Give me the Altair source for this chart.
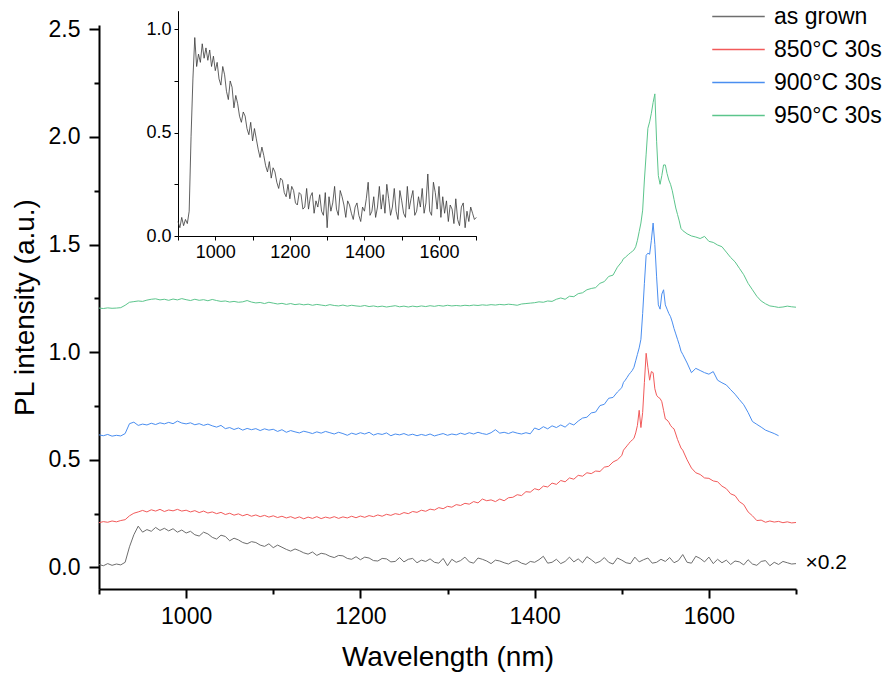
import altair as alt
import pandas as pd

FONT = "Liberation Sans"

SERIES = ["as grown", "850°C 30s", "900°C 30s", "950°C 30s"]
COLORS = ["#6e6e6e", "#f25a5a", "#4a8ef0", "#5cc58c"]
GROWN_SCALE = 0.2  # as-grown curve is shown x0.2 in the main panel

# wavelength sampling grids (nm)
WL_A = list(range(900, 1500, 5))
WL_B = list(range(1500, 1570, 2))
WL_C = list(range(1570, 1701, 5))
WL_BLUE_C = list(range(1570, 1681, 5))
WL_GROWN = list(range(900, 1701, 5))

green_a = [
    1.205, 1.203, 1.206, 1.204, 1.205, 1.207, 1.218, 1.232, 1.235, 1.238,
    1.236, 1.242, 1.246, 1.248, 1.243, 1.246, 1.241, 1.247, 1.243, 1.249,
    1.244, 1.240, 1.246, 1.241, 1.244, 1.239, 1.245, 1.240, 1.236, 1.238,
    1.233, 1.236, 1.232, 1.234, 1.240, 1.233, 1.229, 1.231, 1.226, 1.232,
    1.228, 1.224, 1.227, 1.222, 1.226, 1.221, 1.224, 1.220, 1.223, 1.218,
    1.222, 1.219, 1.216, 1.221, 1.217, 1.215, 1.219, 1.214, 1.218, 1.215,
    1.213, 1.217, 1.212, 1.215, 1.211, 1.214, 1.210, 1.213, 1.216, 1.211,
    1.214, 1.210, 1.214, 1.211, 1.215, 1.212, 1.216, 1.213, 1.217, 1.214,
    1.218, 1.215, 1.217, 1.215, 1.218, 1.216, 1.219, 1.217, 1.220, 1.218,
    1.221, 1.219, 1.222, 1.220, 1.223, 1.221, 1.218, 1.224, 1.226, 1.228,
    1.230, 1.234, 1.232, 1.238, 1.236, 1.246, 1.252, 1.246, 1.260, 1.258,
    1.272, 1.276, 1.290, 1.296, 1.300, 1.320, 1.328, 1.352, 1.358, 1.395,
]
green_b = [
    1.42, 1.435, 1.44, 1.448, 1.455, 1.462, 1.468, 1.475, 1.49, 1.52,
    1.56, 1.60, 1.66, 1.80, 1.92, 2.04, 2.07, 2.11, 2.16, 2.20,
    1.98, 1.82, 1.78, 1.82, 1.87, 1.87, 1.83, 1.80, 1.78, 1.75,
    1.71, 1.67, 1.64, 1.61, 1.575,
]
green_c = [
    1.565, 1.55, 1.54, 1.535, 1.528, 1.538, 1.515, 1.51, 1.498, 1.49,
    1.465, 1.44, 1.42, 1.39, 1.36, 1.32, 1.29, 1.26, 1.238, 1.225,
    1.215, 1.212, 1.208, 1.21, 1.214, 1.211, 1.209,
]

blue_a = [
    0.616, 0.612, 0.618, 0.610, 0.614, 0.611, 0.622, 0.668, 0.675, 0.660,
    0.666, 0.662, 0.670, 0.664, 0.672, 0.667, 0.674, 0.668, 0.680, 0.671,
    0.667, 0.672, 0.663, 0.668, 0.660, 0.666, 0.658, 0.652, 0.660, 0.645,
    0.650, 0.641, 0.648, 0.638, 0.646, 0.640, 0.645, 0.636, 0.644, 0.638,
    0.642, 0.632, 0.640, 0.628, 0.636, 0.630, 0.625, 0.633, 0.628, 0.622,
    0.630, 0.624, 0.632, 0.626, 0.620, 0.628, 0.622, 0.614, 0.624, 0.618,
    0.626, 0.620, 0.628, 0.615, 0.622, 0.618, 0.625, 0.612, 0.620, 0.616,
    0.622, 0.614, 0.619, 0.612, 0.618, 0.613, 0.620, 0.611, 0.617, 0.622,
    0.614, 0.620, 0.616, 0.624, 0.618, 0.626, 0.620, 0.628, 0.622, 0.618,
    0.626, 0.640, 0.624, 0.628, 0.622, 0.630, 0.624, 0.620, 0.626, 0.621,
    0.648, 0.640, 0.654, 0.644, 0.658, 0.650, 0.662, 0.652, 0.670, 0.662,
    0.680, 0.694, 0.698, 0.718, 0.722, 0.752, 0.758, 0.786, 0.790, 0.815,
]
blue_b = [
    0.835, 0.86, 0.87, 0.882, 0.895, 0.905, 0.915, 0.93, 0.96, 0.99,
    1.02, 1.06, 1.18, 1.32, 1.45, 1.46, 1.455, 1.52, 1.60, 1.50,
    1.35, 1.22, 1.20, 1.27, 1.29, 1.22, 1.20, 1.18, 1.165, 1.14,
    1.11, 1.085, 1.06, 1.035, 1.005,
]
blue_c = [
    0.99, 0.95, 0.905, 0.925, 0.915, 0.905, 0.898, 0.91, 0.87, 0.858,
    0.848, 0.826, 0.805, 0.78, 0.756, 0.72, 0.678, 0.665, 0.652, 0.638,
    0.630, 0.622, 0.612,
]

red_a = [
    0.208, 0.213, 0.210, 0.216, 0.212, 0.218, 0.222, 0.240, 0.252, 0.258,
    0.265, 0.258, 0.268, 0.262, 0.270, 0.260, 0.267, 0.263, 0.270, 0.262,
    0.266, 0.258, 0.264, 0.255, 0.262, 0.253, 0.258, 0.250, 0.256, 0.246,
    0.252, 0.243, 0.249, 0.240, 0.247, 0.238, 0.244, 0.236, 0.242, 0.234,
    0.240, 0.232, 0.238, 0.230, 0.236, 0.228, 0.235, 0.226, 0.234, 0.228,
    0.236, 0.227, 0.234, 0.229, 0.236, 0.228, 0.235, 0.230, 0.238, 0.231,
    0.239, 0.233, 0.241, 0.236, 0.244, 0.238, 0.247, 0.242, 0.250, 0.246,
    0.255, 0.250, 0.260, 0.256, 0.266, 0.261, 0.271, 0.267, 0.278, 0.273,
    0.284, 0.280, 0.292, 0.288, 0.298, 0.294, 0.306, 0.300, 0.318, 0.310,
    0.314, 0.306, 0.318, 0.310, 0.324, 0.326, 0.338, 0.334, 0.352, 0.350,
    0.366, 0.360, 0.378, 0.374, 0.392, 0.386, 0.404, 0.398, 0.416, 0.410,
    0.428, 0.424, 0.440, 0.436, 0.448, 0.446, 0.466, 0.470, 0.490, 0.500,
]
red_b = [
    0.52, 0.545, 0.555, 0.565, 0.575, 0.585, 0.592, 0.60, 0.625, 0.66,
    0.73, 0.65, 0.72, 0.86, 0.995, 0.93, 0.87, 0.91, 0.905, 0.83,
    0.80, 0.79, 0.785, 0.77, 0.73, 0.69, 0.685, 0.675, 0.66, 0.65,
    0.644, 0.62, 0.595, 0.575, 0.555,
]
red_c = [
    0.545, 0.50, 0.462, 0.44, 0.432, 0.416, 0.414, 0.402, 0.398, 0.378,
    0.366, 0.342, 0.334, 0.306, 0.292, 0.258, 0.240, 0.218, 0.220, 0.210,
    0.216, 0.211, 0.214, 0.208, 0.212, 0.207, 0.209,
]

# as-grown, normalised (inset); main panel shows it x0.2
grown_norm = [
    0.07, 0.04, 0.09, 0.05, 0.08, 0.06, 0.12, 0.48, 0.76, 0.96,
    0.82, 0.88, 0.84, 0.93, 0.86, 0.91, 0.85, 0.90, 0.82, 0.87,
    0.80, 0.84, 0.76, 0.73, 0.82, 0.78, 0.70, 0.66, 0.75, 0.72,
    0.62, 0.68, 0.64, 0.58, 0.55, 0.60, 0.58, 0.52, 0.49, 0.55,
    0.46, 0.52, 0.47, 0.42, 0.38, 0.43, 0.39, 0.34, 0.31, 0.36,
    0.28, 0.33, 0.31, 0.26, 0.23, 0.28, 0.27, 0.21, 0.19, 0.25,
    0.18, 0.24, 0.22, 0.16, 0.15, 0.21, 0.20, 0.13, 0.14, 0.23,
    0.13, 0.19, 0.21, 0.11, 0.17, 0.14, 0.20, 0.12, 0.10, 0.21,
    0.04, 0.19, 0.12, 0.16, 0.24, 0.13, 0.10, 0.22, 0.19, 0.15,
    0.09, 0.17, 0.15, 0.11, 0.08, 0.14, 0.16, 0.10, 0.07, 0.14,
    0.12, 0.18, 0.26, 0.10, 0.12, 0.19, 0.09, 0.14, 0.24, 0.13,
    0.20, 0.11, 0.25, 0.18, 0.10, 0.14, 0.23, 0.12, 0.08, 0.22,
    0.17, 0.11, 0.09, 0.24, 0.13, 0.18, 0.22, 0.10, 0.12, 0.19,
    0.14, 0.23, 0.11, 0.16, 0.30, 0.12, 0.10, 0.26, 0.21, 0.13,
    0.24, 0.09, 0.19, 0.11, 0.17, 0.07, 0.15, 0.13, 0.06, 0.18,
    0.08, 0.05, 0.14, 0.16, 0.04, 0.12, 0.07, 0.14, 0.11, 0.08,
    0.09,
]


def rows(name, wl, vals):
    if len(wl) != len(vals):
        raise ValueError(f"{name}: {len(wl)} wavelengths vs {len(vals)} values")
    return [{"wl": w, "v": v, "series": name} for w, v in zip(wl, vals)]


main_rows = []
main_rows += rows(SERIES[0], WL_GROWN, [round(v * GROWN_SCALE, 4) for v in grown_norm])
main_rows += rows(SERIES[1], WL_A + WL_B + WL_C, red_a + red_b + red_c)
main_rows += rows(SERIES[2], WL_A + WL_B + WL_BLUE_C, blue_a + blue_b + blue_c)
main_rows += rows(SERIES[3], WL_A + WL_B + WL_C, green_a + green_b + green_c)
main_df = pd.DataFrame(main_rows)
inset_df = pd.DataFrame(rows("inset", WL_GROWN, grown_norm))

W, H = 697, 564
X_DOMAIN = [900, 1700]
Y_DOMAIN = [-0.1, 2.52]

major_x = "datum.value % 200 === 0"
major_y = "datum.value % 0.5 === 0"

x_main = alt.X(
    "wl:Q",
    scale=alt.Scale(domain=X_DOMAIN, nice=False, zero=False),
    axis=alt.Axis(
        values=list(range(900, 1701, 100)),
        labelExpr=f"{major_x} ? datum.label : ''",
        format="d",
        tickSize={"condition": {"test": major_x, "value": 9}, "value": 5},
        tickWidth=2, domainWidth=2, tickColor="black", domainColor="black",
        labelFontSize=23, labelPadding=7, labelColor="black",
        titleFontSize=28, titlePadding=15, titleFontWeight="normal",
        titleColor="black", grid=False,
    ),
    title="Wavelength (nm)",
)
y_main = alt.Y(
    "v:Q",
    scale=alt.Scale(domain=Y_DOMAIN, nice=False, zero=False),
    axis=alt.Axis(
        values=[i * 0.25 for i in range(0, 11)],
        labelExpr=f"{major_y} ? datum.label : ''",
        format=".1f",
        tickSize={"condition": {"test": major_y, "value": 10}, "value": 5},
        tickWidth=2, domainWidth=2, tickColor="black", domainColor="black",
        labelFontSize=23, labelPadding=9, labelColor="black",
        titleFontSize=28, titlePadding=9, titleFontWeight="normal",
        titleColor="black", grid=False,
    ),
    title="PL intensity (a.u.)",
)

lines = alt.Chart(main_df).mark_line(strokeWidth=1, clip=False).encode(
    x=x_main,
    y=y_main,
    color=alt.Color(
        "series:N",
        scale=alt.Scale(domain=SERIES, range=COLORS),
        sort=SERIES,
        legend=alt.Legend(
            orient="none", legendX=628, legendY=-20, title=None,
            symbolType="M-2.5,0H2.5", symbolSize=441, symbolStrokeWidth=1.3,
            labelFontSize=23, labelOffset=24, rowPadding=9, labelColor="black",
            labelLimit=300,
        ),
    ),
    order="wl:Q",
)

note = alt.Chart(pd.DataFrame({"t": ["×0.2"]})).mark_text(
    align="left", baseline="middle", fontSize=21, color="black"
).encode(
    x=alt.datum(1711),
    y=alt.datum(0.023),
    text="t:N",
)

main = alt.layer(lines, note)

inset = alt.Chart(inset_df).mark_line(strokeWidth=0.8, color="#383838", clip=False).encode(
    x=alt.X(
        "wl:Q",
        scale=alt.Scale(domain=X_DOMAIN, range=[79, 377.3], nice=False, zero=False),
        axis=alt.Axis(
            orient="bottom", offset=-353,
            values=list(range(900, 1701, 100)),
            labelExpr=f"{major_x} ? datum.label : ''",
            format="d", tickSize=4, tickWidth=1, domainWidth=1,
            tickColor="black", domainColor="black",
            labelFontSize=18, labelPadding=3, labelColor="black",
            title=None, grid=False,
        ),
    ),
    y=alt.Y(
        "v:Q",
        scale=alt.Scale(domain=[0, 1.09], range=[211, -14.3], nice=False, zero=False),
        axis=alt.Axis(
            orient="left", offset=-79,
            values=[0, 0.25, 0.5, 0.75, 1.0],
            labelExpr=f"{major_y} ? datum.label : ''",
            format=".1f", tickSize=4, tickWidth=1, domainWidth=1,
            tickColor="black", domainColor="black",
            labelFontSize=18, labelPadding=3, labelColor="black",
            title=None, grid=False,
        ),
    ),
    order="wl:Q",
)

chart = (
    alt.layer(main, inset)
    .resolve_scale(x="independent", y="independent")
    .properties(
        width=W, height=H,
        autosize=alt.AutoSizeParams(type="none"),
        padding={"left": 99, "top": 25, "right": 888 - 99 - W, "bottom": 679 - 25 - H},
        background="white",
    )
    .configure_view(stroke=None)
    .configure_axis(labelFont=FONT, titleFont=FONT)
    .configure_legend(labelFont=FONT)
    .configure_text(font=FONT)
)

chart.save("out.html", embed_options={"renderer": "svg", "actions": False})
